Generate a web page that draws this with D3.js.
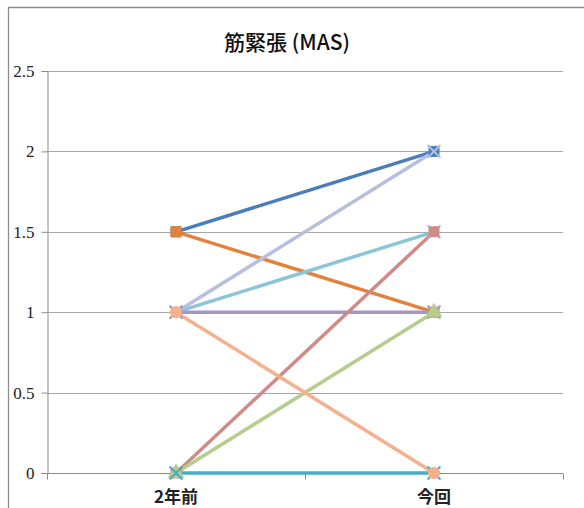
<!DOCTYPE html>
<html>
<head>
<meta charset="utf-8">
<script src="https://cdn.jsdelivr.net/npm/d3@7"></script>
<style>
  html, body { margin: 0; padding: 0; background: #fff; }
  svg { display: block; }
</style>
</head>
<body>
<div id="chart"></div>
<script>
// Categories on the x axis
const categories = ["2年前", "今回"];
// Y axis tick values
const yTicks = [0, 0.5, 1, 1.5, 2, 2.5];
// One entry per subject: value two years ago and now
const seriesNames = ["A", "B", "C", "D", "E", "F", "G", "H", "I"];
const seriesValues = [
  [1.5, 2],
  [1.5, 1],
  [1, 2],
  [1, 1.5],
  [1, 1],
  [0, 1.5],
  [0, 1],
  [0, 0],
  [1, 0]
];
const seriesColors = ["#4A7EBB", "#E3823D", "#B7BFDD", "#8CC5D8", "#A497C3", "#CF8B88", "#B7CD8E", "#4BACC6", "#F5B08E"];
const seriesMarkers = ["square", "square", "cross", "cross", "cross", "square", "triangle", "cross", "circle"];
const title = "筋緊張 (MAS)";

const W = 584, H = 508;
const margin = { left: 47, right: 21, top: 71, bottom: 35 };

const svg = d3.select("#chart").append("svg")
  .attr("width", W).attr("height", H);

// Outer frame (top and left edges visible)
svg.append("path")
  .attr("d", `M8.5,${H} V7.5 H${W}`)
  .attr("fill", "none").attr("stroke", "#8c8c8c").attr("stroke-width", 1.3);

const x = d3.scaleBand().domain(categories)
  .range([margin.left, W - margin.right]);
const y = d3.scaleLinear().domain([0, 2.5])
  .range([H - margin.bottom, margin.top]);

// Title
svg.append("text")
  .attr("x", 287).attr("y", 50)
  .attr("text-anchor", "middle")
  .attr("font-family", "'Noto Sans CJK JP', sans-serif")
  .attr("font-size", 21)
  .attr("font-weight", 500)
  .attr("fill", "#111")
  .text(title);

// Horizontal gridlines
svg.append("g").selectAll("line").data(yTicks.filter(d => d > 0)).join("line")
  .attr("x1", margin.left).attr("x2", W - margin.right)
  .attr("y1", d => Math.round(y(d)) + 0.5).attr("y2", d => Math.round(y(d)) + 0.5)
  .attr("stroke", "#a6a6a6").attr("stroke-width", 1);

// Y axis
const yAxis = svg.append("g")
  .attr("transform", `translate(${margin.left + 0.5},0)`)
  .call(d3.axisLeft(y).tickValues(yTicks).tickSize(6).tickPadding(7)
    .tickFormat(d => String(d)));
yAxis.select(".domain").attr("stroke", "#8c8c8c");
yAxis.selectAll(".tick line").attr("stroke", "#8c8c8c");
yAxis.selectAll("text")
  .attr("font-family", "'Liberation Serif', 'DejaVu Serif', serif")
  .attr("font-size", 17).attr("fill", "#222");

// X axis
const xAxisY = Math.round(y(0)) + 0.5;
const xg = svg.append("g");
xg.append("line")
  .attr("x1", margin.left).attr("x2", W - margin.right)
  .attr("y1", xAxisY).attr("y2", xAxisY)
  .attr("stroke", "#8c8c8c");
const bounds = [margin.left, ...categories.map(c => x(c) + x.bandwidth())];
xg.selectAll("line.tk").data(bounds).join("line").attr("class", "tk")
  .attr("x1", d => Math.round(d) + 0.5).attr("x2", d => Math.round(d) + 0.5)
  .attr("y1", xAxisY).attr("y2", xAxisY + 6)
  .attr("stroke", "#8c8c8c");
xg.selectAll("text").data(categories).join("text")
  .attr("x", d => x(d) + x.bandwidth() / 2)
  .attr("y", 503)
  .attr("text-anchor", "middle")
  .attr("font-family", "'Noto Sans CJK JP', sans-serif")
  .attr("font-size", 17)
  .attr("font-weight", 700)
  .attr("fill", "#222")
  .text(d => d);

const cx = c => x(c) + x.bandwidth() / 2;
const line = d3.line().x((d, i) => cx(categories[i])).y(d => y(d));

// Lines
const gLines = svg.append("g");
seriesValues.forEach((vals, i) => {
  gLines.append("path")
    .attr("d", line(vals))
    .attr("fill", "none")
    .attr("stroke", seriesColors[i])
    .attr("stroke-width", 3.5)
    .attr("stroke-linecap", "round");
});

// Markers
const gMarks = svg.append("g");
const symbolFor = {
  square: d3.symbolSquare,
  triangle: d3.symbolTriangle,
  circle: d3.symbolCircle,
  cross: d3.symbolX
};
seriesValues.forEach((vals, i) => {
  vals.forEach((v, j) => {
    const shape = seriesMarkers[i];
    const sym = d3.symbol().type(symbolFor[shape]).size(shape === "cross" ? 110 : 100);
    const p = gMarks.append("path")
      .attr("d", sym())
      .attr("transform", `translate(${cx(categories[j])},${y(v)})`);
    if (shape === "cross") {
      p.attr("fill", "none").attr("stroke", seriesColors[i]).attr("stroke-width", 2);
    } else {
      p.attr("fill", seriesColors[i]).attr("stroke", seriesColors[i]).attr("stroke-width", 1);
    }
  });
});
</script>
</body>
</html>
